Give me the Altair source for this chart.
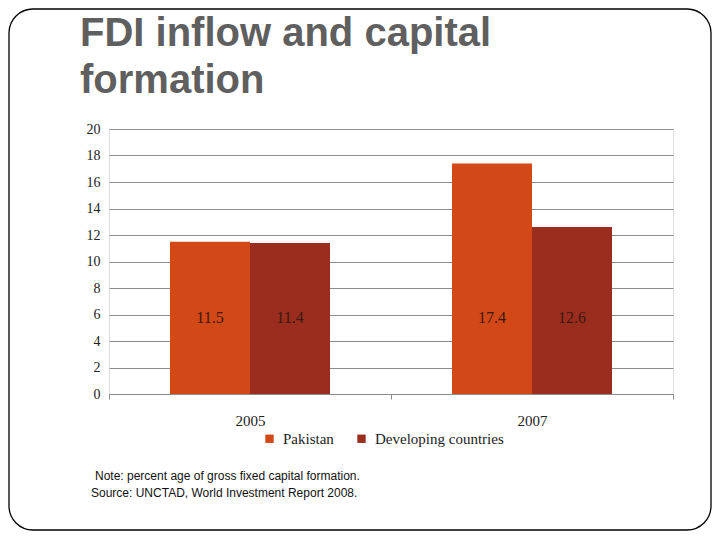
import altair as alt
import pandas as pd

years = ["2005", "2007"]
series = ["Pakistan", "Developing countries"]
pakistan = [11.5, 17.4]
developing = [11.4, 12.6]
colors = ["#D34817", "#9B2D1F"]
y_ticks = [0, 2, 4, 6, 8, 10, 12, 14, 16, 18, 20]
title_lines = ["FDI inflow and capital", "formation"]
note_text = "Note: percent age of gross fixed capital formation."
source_text = "Source: UNCTAD, World Investment Report 2008."

rows = []
for i, yr in enumerate(years):
    rows.append({"year": yr, "series": series[0], "value": pakistan[i]})
    rows.append({"year": yr, "series": series[1], "value": developing[i]})
df = pd.DataFrame(rows)

serif = "Liberation Serif"
sans = "Liberation Sans"

x_axis = alt.Axis(
    title=None, labelAngle=0, tickBand="extent", tickSize=5,
    tickColor="#8c8c8c", domainColor="#8c8c8c", labelFont=serif,
    labelFontSize=15, labelColor="#222222", labelPadding=14, grid=False,
)
y_axis = alt.Axis(
    title=None, values=y_ticks, domain=False, ticks=False,
    gridColor="#8c8c8c", gridWidth=1, labelFont=serif, labelOverlap=False,
    labelFontSize=14, labelColor="#222222", labelPadding=9,
)
x_scale = alt.Scale(paddingInner=0, paddingOuter=0)
y_scale = alt.Scale(domain=[0, 20])
off_scale = alt.Scale(paddingInner=0, paddingOuter=0.7625)

bars = alt.Chart(df).mark_bar().encode(
    x=alt.X("year:N", sort=years, scale=x_scale, axis=x_axis),
    xOffset=alt.XOffset("series:N", sort=series, scale=off_scale),
    y=alt.Y("value:Q", scale=y_scale, axis=y_axis),
    color=alt.Color(
        "series:N",
        sort=series,
        scale=alt.Scale(domain=series, range=colors),
        legend=alt.Legend(
            title=None, orient="none", legendX=153, legendY=302,
            direction="horizontal", symbolType="square", symbolSize=70,
            symbolStrokeWidth=0, labelFont=serif, labelFontSize=15,
            labelColor="#222222", columnPadding=20, labelOffset=6,
        ),
    ),
)

labels = alt.Chart(df).mark_text(
    font=serif, fontSize=16, color="#3a1a10", baseline="middle"
).encode(
    x=alt.X("year:N", sort=years, scale=x_scale, axis=x_axis),
    xOffset=alt.XOffset("series:N", sort=series, scale=off_scale),
    y=alt.YDatum(5.7, scale=y_scale, axis=y_axis),
    text=alt.Text("value:Q", format=".1f"),
)

one = pd.DataFrame({"k": [0]})

title = alt.Chart(one).mark_text(
    font=sans, fontSize=40, fontWeight="bold", color="#5f5f5f",
    align="left", baseline="alphabetic", lineHeight=47, text=title_lines,
).encode(x=alt.value(-29), y=alt.value(-83))

notes = alt.Chart(one).mark_text(
    font=sans, fontSize=12, color="#111111", align="left", baseline="middle"
).encode(x=alt.value(-14), y=alt.value(347), text=alt.value(note_text))

source = alt.Chart(one).mark_text(
    font=sans, fontSize=12, color="#111111", align="left", baseline="middle"
).encode(x=alt.value(-18), y=alt.value(364), text=alt.value(source_text))

border = alt.Chart(one).mark_rect(
    fill=None, stroke="#000000", strokeWidth=1.3, cornerRadius=24
).encode(
    x=alt.value(-100), x2=alt.value(602), y=alt.value(-120), y2=alt.value(401)
)

chart = alt.layer(border, bars, labels, title, notes, source).properties(
    width=564,
    height=265,
    autosize=alt.AutoSizeParams(type="none"),
    padding={"left": 101, "top": 121, "right": 39, "bottom": 138},
).configure_view(stroke=None).configure(background="white")

chart.save("out.html", embed_options={"renderer": "svg", "actions": False})
